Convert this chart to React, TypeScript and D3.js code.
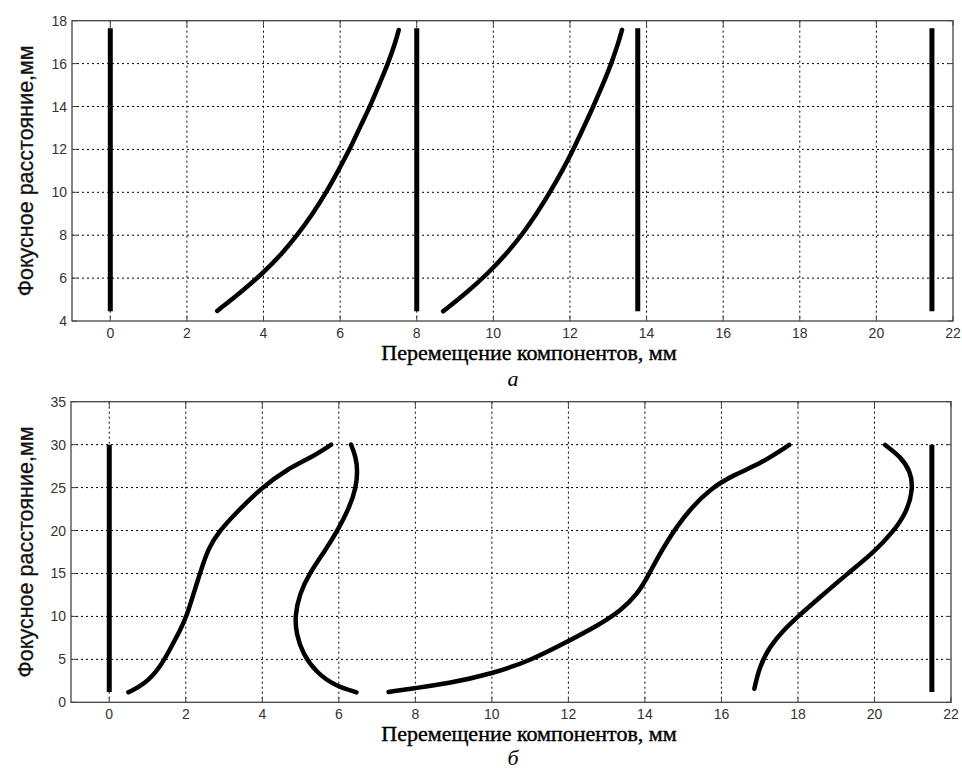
import React from 'react';
import * as d3 from 'd3';

// x ticks shared by both panels
const xTicks = [0, 2, 4, 6, 8, 10, 12, 14, 16, 18, 20, 22];
const yTicksA = [4, 6, 8, 10, 12, 14, 16, 18];
const yTicksB = [0, 5, 10, 15, 20, 25, 30, 35];

// panel "а": fixed components and their y range
const verticalsA = [0, 8, 13.77, 21.45];
const verticalRangeA = [4.45, 17.65];

// panel "а": two moving components
const curveA1: [number, number][] = [
  [2.79, 4.47], [3.39, 5.32], [4.0, 6.25], [4.5, 7.18], [4.88, 8.0], [5.3, 9.04],
  [5.64, 10.0], [5.99, 11.14], [6.25, 12.0], [6.55, 13.16], [6.78, 14.0], [7.07, 15.24],
  [7.25, 16.0], [7.45, 17.03], [7.53, 17.57],
];
const curveA2: [number, number][] = [
  [8.69, 4.45], [9.29, 5.3], [9.88, 6.25], [10.37, 7.2], [10.74, 8.0], [11.13, 9.0],
  [11.48, 10.0], [11.83, 11.1], [12.09, 12.0], [12.39, 13.15], [12.61, 14.0],
  [12.9, 15.2], [13.08, 16.0], [13.27, 17.0], [13.36, 17.57],
];

// panel "б"
const verticalsB = [0, 21.5];
const verticalRangeB = [1.2, 30];

const curveB1: [number, number][] = [
  [0.5, 1.16], [0.94, 2.14], [1.33, 4.07], [1.59, 6.2], [1.85, 8.34], [2.02, 10.0],
  [2.2, 12.6], [2.37, 15.0], [2.59, 18.0], [2.89, 20.0], [3.28, 21.9], [3.98, 25.0],
  [4.67, 27.2], [5.28, 28.5], [5.8, 30.0],
];
const curveB2: [number, number][] = [
  [6.32, 30.0], [6.45, 28.5], [6.49, 26.9], [6.45, 25.0], [6.28, 22.7], [5.97, 20.0],
  [5.63, 17.6], [5.23, 15.0], [4.97, 12.6], [4.85, 10.0], [4.89, 7.95], [5.06, 5.63],
  [5.41, 3.49], [5.89, 1.94], [6.46, 1.16],
];
const curveB3: [number, number][] = [
  [7.3, 1.2], [8.0, 1.66], [8.83, 2.16], [10.0, 3.32], [11.01, 4.86], [12.02, 7.18],
  [12.76, 8.92], [13.37, 10.66], [13.8, 12.59], [14.06, 14.52], [14.33, 16.83],
  [14.59, 18.76], [14.81, 20.3], [15.2, 22.6], [15.72, 24.9], [16.33, 26.5],
  [17.03, 27.8], [17.77, 29.96],
];
const curveB4: [number, number][] = [
  [16.86, 1.58], [16.99, 4.1], [17.25, 6.4], [17.61, 8.34], [18.0, 10.0], [18.57, 12.2],
  [19.27, 14.9], [19.97, 17.4], [20.5, 19.9], [20.85, 22.2], [21.01, 24.9],
  [20.94, 26.9], [20.68, 28.6], [20.28, 29.96],
];

const xLabel = 'Перемещение компонентов, мм';
const yLabel = 'Фокусное расстояние,мм';

type PanelProps = {
  left: number;
  right: number;
  top: number;
  bottom: number;
  yDomain: [number, number];
  yTicks: number[];
  verticals: number[];
  verticalRange: number[];
  curves: [number, number][][];
  caption: string;
  captionGap: number;
};

const sans = 'Liberation Sans, Arial, sans-serif';
const serif = 'Liberation Serif, Times New Roman, serif';

const Panel = ({ left, right, top, bottom, yDomain, yTicks, verticals, verticalRange, curves, caption, captionGap }: PanelProps) => {
  const x = d3.scaleLinear().domain([-1, 22]).range([left, right]);
  const y = d3.scaleLinear().domain(yDomain).range([bottom, top]);
  const line = d3.line<[number, number]>()
    .x(d => x(d[0]))
    .y(d => y(d[1]))
    .curve(d3.curveBasis);
  const midY = (top + bottom) / 2;

  return (
    <g>
      {/* grid */}
      {xTicks.filter(t => t < 22).map(t => (
        <line key={'gx' + t} x1={x(t)} x2={x(t)} y1={top} y2={bottom}
          stroke="#000" strokeWidth={1} strokeDasharray="2,3" />
      ))}
      {yTicks.filter(t => t > yDomain[0] && t < yDomain[1]).map(t => (
        <line key={'gy' + t} x1={left} x2={right} y1={y(t)} y2={y(t)}
          stroke="#000" strokeWidth={1} strokeDasharray="2,3" />
      ))}

      {/* box and ticks */}
      <rect x={left} y={top} width={right - left} height={bottom - top}
        fill="none" stroke="#444" strokeWidth={1.3} />
      {xTicks.map(t => (
        <g key={'tx' + t}>
          <line x1={x(t)} x2={x(t)} y1={bottom} y2={bottom - 5} stroke="#444" />
          <line x1={x(t)} x2={x(t)} y1={top} y2={top + 5} stroke="#444" />
          <text x={x(t)} y={bottom + 17} textAnchor="middle" fontSize={14}
            fontFamily={sans} fill="#333">{t}</text>
        </g>
      ))}
      {yTicks.map(t => (
        <g key={'ty' + t}>
          <line x1={left} x2={left + 5} y1={y(t)} y2={y(t)} stroke="#444" />
          <line x1={right} x2={right - 5} y1={y(t)} y2={y(t)} stroke="#444" />
          <text x={left - 5} y={y(t) + 5} textAnchor="end" fontSize={14}
            fontFamily={sans} fill="#333">{t}</text>
        </g>
      ))}

      {/* data */}
      {verticals.map(v => (
        <line key={'v' + v} x1={x(v)} x2={x(v)} y1={y(verticalRange[0])} y2={y(verticalRange[1])}
          stroke="#000" strokeWidth={5} />
      ))}
      {curves.map((c, i) => (
        <path key={'c' + i} d={line(c) || ''} fill="none" stroke="#000"
          strokeWidth={4.5} strokeLinecap="round" />
      ))}

      {/* labels */}
      <text x={27} y={midY} transform={`rotate(-90, 27, ${midY})`} textAnchor="middle"
        dominantBaseline="middle" fontSize={21.5} fontFamily={sans}
        fill="#111" stroke="#111" strokeWidth={0.3}>{yLabel}</text>
      <text x={529} y={bottom + 39} textAnchor="middle" fontSize={22}
        fontFamily={serif} fill="#000" stroke="#000" strokeWidth={0.4}>{xLabel}</text>
      <text x={513} y={bottom + captionGap} textAnchor="middle" fontSize={22} fontStyle="italic"
        fontFamily={serif} fill="#000">{caption}</text>
    </g>
  );
};

export default function App() {
  return (
    <svg width={962} height={771} style={{ position: 'absolute', left: 0, top: 0, background: '#fff' }}>
      <rect width={962} height={771} fill="#fff" />
      <Panel left={72} right={953} top={20.7} bottom={321} yDomain={[4, 18]} yTicks={yTicksA}
        verticals={verticalsA} verticalRange={verticalRangeA} curves={[curveA1, curveA2]}
        caption="а" captionGap={65} />
      <Panel left={71} right={951} top={401.7} bottom={702.3} yDomain={[0, 35]} yTicks={yTicksB}
        verticals={verticalsB} verticalRange={verticalRangeB}
        curves={[curveB1, curveB2, curveB3, curveB4]} caption="б" captionGap={63} />
    </svg>
  );
}
